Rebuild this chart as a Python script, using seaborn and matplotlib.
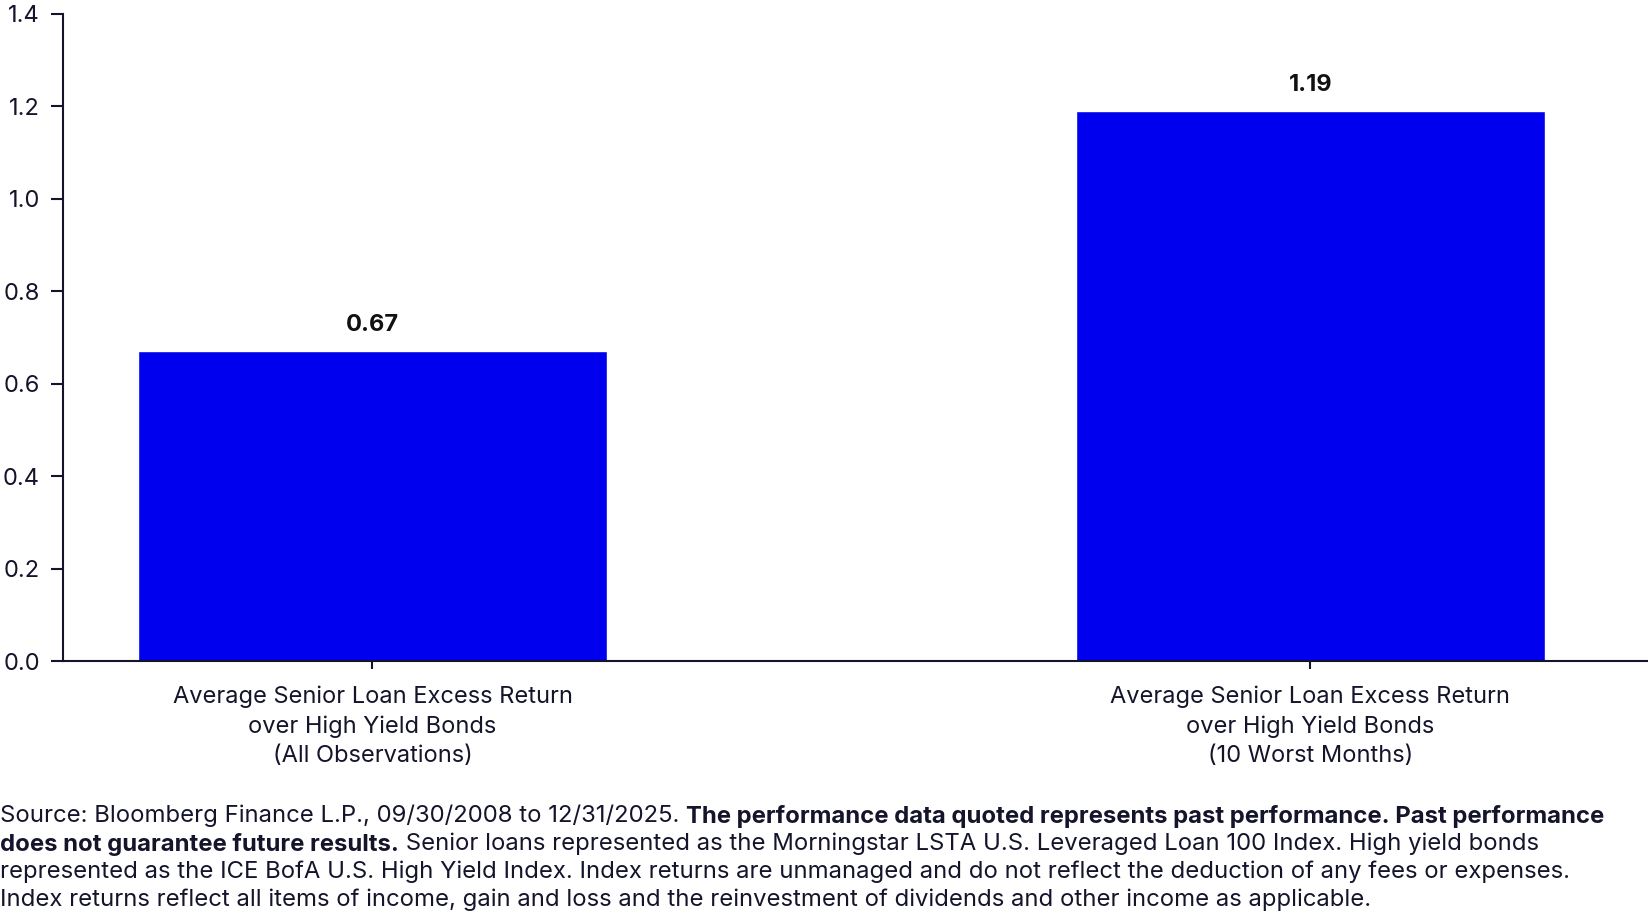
import numpy as np
import pandas as pd
import matplotlib
matplotlib.use("Agg")
import matplotlib.pyplot as plt
import seaborn as sns

# Data
categories = [
    "Average Senior Loan Excess Return\nover High Yield Bonds\n(All Observations)",
    "Average Senior Loan Excess Return\nover High Yield Bonds\n(10 Worst Months)",
]
values = [0.67, 1.19]
y_ticks = [0.0, 0.2, 0.4, 0.6, 0.8, 1.0, 1.2, 1.4]

footer_lines = [
    [("Source: Bloomberg Finance L.P., 09/30/2008 to 12/31/2025. ", "normal"),
     ("The performance data quoted represents past performance. Past performance", "bold")],
    [("does not guarantee future results.", "bold"),
     (" Senior loans represented as the Morningstar LSTA U.S. Leveraged Loan 100 Index. High yield bonds", "normal")],
    [("represented as the ICE BofA U.S. High Yield Index. Index returns are unmanaged and do not reflect the deduction of any fees or expenses.", "normal")],
    [("Index returns reflect all items of income, gain and loss and the reinvestment of dividends and other income as applicable.", "normal")],
]

bar_color = "#0000EE"
ink = "#14142b"

sns.set_style("white")
plt.rcParams["font.family"] = ["Inter", "DejaVu Sans"]

df = pd.DataFrame({"cat": categories, "val": values})

W, H = 1648, 924
fig, ax = plt.subplots(figsize=(W / 100, H / 100), dpi=100)
fig.subplots_adjust(left=63 / W, right=1.0, top=1 - 14 / H, bottom=1 - 661 / H)

sns.barplot(data=df, x="cat", y="val", hue="cat", palette=[bar_color, bar_color],
            width=0.5, legend=False, ax=ax, saturation=1)

ax.set_xlim(-0.33, 1.36)
ax.set_ylim(0, 1.4)
ax.set_yticks(y_ticks)
ax.set_yticklabels([f"{t:.1f}" for t in y_ticks])
ax.set_xlabel("")
ax.set_ylabel("")

for s in ["top", "right"]:
    ax.spines[s].set_visible(False)
for s in ["left", "bottom"]:
    ax.spines[s].set_color(ink)
    ax.spines[s].set_linewidth(1.5)

ax.tick_params(axis="y", length=8.5, width=1.5, color=ink, pad=8, labelsize=17, labelcolor=ink, left=True)
ax.tick_params(axis="x", length=6, width=1.5, color=ink, pad=12, labelsize=17, labelcolor=ink, bottom=True)
for lbl in ax.get_xticklabels():
    lbl.set_linespacing(1.42)

for i, v in enumerate(values):
    ax.annotate(f"{v:.2f}", (i, v), xytext=(0, 11), textcoords="offset points",
                ha="center", va="bottom", fontsize=17, fontweight="bold", color="#111111")

# footer with mixed bold / normal runs
fig.canvas.draw()
renderer = fig.canvas.get_renderer()
line_y = [816, 844, 872, 900]
for runs, yp in zip(footer_lines, line_y):
    x = 0.0
    for txt, wt in runs:
        t = fig.text(x, 1 - yp / H, txt, fontsize=17.2, fontweight=wt, color=ink,
                     ha="left", va="center")
        bb = t.get_window_extent(renderer=renderer)
        x = bb.x1 / W

fig.savefig("out.png", dpi=100)
